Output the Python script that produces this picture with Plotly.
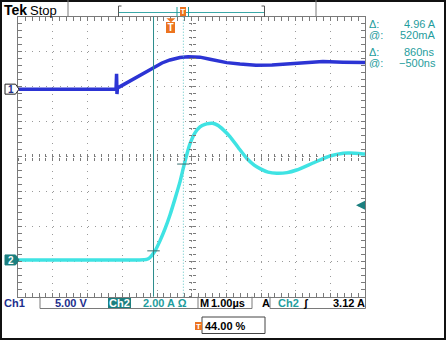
import plotly.graph_objects as go

W, H = 446, 340

# ---------------- scope settings / readouts ----------------
TIME_PER_DIV_US = 1.0
N_HDIV, N_VDIV = 10, 8
TRIGGER_POS_PCT = 44.0
CH1_VOLTS_PER_DIV = 5.0
CH2_AMPS_PER_DIV = 2.0
CH1_REF_DIV = 1.93
CH2_REF_DIV = -2.95
TRIGGER_LEVEL_A = 3.12
CURSOR1_T_US = -0.50
CURSOR_DT_US = 0.86
CURSOR1_A = 0.52
CURSOR_DA = 4.96

# ---------------- waveform data ----------------
ch1_time_us = [-4.4, -1.58, -1.565, -1.553, -1.54, -1.467, -1.084, -0.746, -0.458, -0.256,
               -0.026, 0.262, 0.501, 0.839, 1.127, 1.608, 1.991, 2.452, 2.914, 3.424,
               3.865, 4.383, 4.96, 5.6]
ch1_volts = [0.0, 0.0, 2.2, -0.7, 0.17, 0.36, 1.41, 2.31, 3.21, 3.74,
             4.17, 4.53, 4.64, 4.57, 4.27, 3.79, 3.60, 3.43, 3.46, 3.67,
             3.81, 3.96, 3.86, 3.79]

ch2_time_us = [-4.4, -0.9, -0.7, -0.602, -0.458, -0.314, -0.170, -0.026, 0.118, 0.262,
               0.360, 0.464, 0.550, 0.695, 0.839, 0.983, 1.100, 1.200, 1.357, 1.520,
               1.703, 1.950, 2.184, 2.400, 2.568, 2.800, 3.049, 3.350, 3.625, 4.095,
               4.585, 4.968, 5.150, 5.545, 5.6]
ch2_amps = [0.0, 0.0, 0.03, 0.14, 0.51, 1.09, 1.77, 2.57, 3.49, 4.46,
            5.26, 6.06, 6.63, 7.26, 7.60, 7.75, 7.80, 7.81, 7.69, 7.42,
            7.05, 6.40, 5.81, 5.42, 5.22, 5.02, 4.95, 4.99, 5.14, 5.54,
            5.94, 6.10, 6.11, 6.06, 6.05]

# ---------------- geometry & style ----------------
FONT = "Liberation Sans"
PL, PR, PT, PB = 18.2, 365.2, 16.7, 296.7
T0 = -TRIGGER_POS_PCT / 100 * N_HDIV * TIME_PER_DIV_US
T1 = T0 + N_HDIV * TIME_PER_DIV_US
BLUE = "#2c34d4"
CYAN = "#3fe3e3"
TEAL = "#1f9d9d"
TEAL_DARK = "#1b7f7f"
NAVY = "#1c2e8c"
ORANGE = "#ec7420"
FRAME = "#7a7a7a"
GRID = "#9a9a9a"


def X(px):
    return px / W


def Y(py):
    return 1 - py / H


def t2px(t):
    return PL + (t - T0) / (T1 - T0) * (PR - PL)


def d2py(d):
    return PT + (N_VDIV / 2 - d) / N_VDIV * (PB - PT)


ch1_div = [CH1_REF_DIV + v / CH1_VOLTS_PER_DIV for v in ch1_volts]
ch2_div = [CH2_REF_DIV + a / CH2_AMPS_PER_DIV for a in ch2_amps]

fig = go.Figure()
fig.add_trace(go.Scatter(x=ch1_time_us, y=ch1_div, mode="lines",
                         line=dict(color=BLUE, width=3.5), hoverinfo="skip", showlegend=False))
fig.add_trace(go.Scatter(x=ch2_time_us, y=ch2_div, mode="lines",
                         line=dict(color=CYAN, width=3.5, shape="spline", smoothing=0.5),
                         hoverinfo="skip", showlegend=False))
# empty helper traces so the centre-line tick axes are instantiated
for xa, ya in [("x2", "y"), ("x3", "y"), ("x", "y2"), ("x", "y3")]:
    fig.add_trace(go.Scatter(x=[], y=[], xaxis=xa, yaxis=ya, showlegend=False, hoverinfo="skip"))

xdom = [X(PL), X(PR)]
ydom = [Y(PB), Y(PT)]
common = dict(showticklabels=False, zeroline=False, fixedrange=True)

xaxis = dict(domain=xdom, range=[T0, T1], tick0=T0, dtick=TIME_PER_DIV_US,
             showgrid=True, gridcolor=GRID, gridwidth=1, griddash="1px,6px",
             showline=True, linecolor=FRAME, linewidth=1, mirror="allticks",
             ticks="inside", ticklen=4, tickcolor=FRAME,
             minor=dict(tick0=T0, dtick=TIME_PER_DIV_US / 5, ticks="inside", ticklen=3,
                        tickcolor=FRAME, showgrid=False), **common)
yaxis = dict(domain=ydom, range=[-N_VDIV / 2, N_VDIV / 2], tick0=0, dtick=1,
             showgrid=True, gridcolor=GRID, gridwidth=1, griddash="1px,5.94px",
             showline=True, linecolor=FRAME, linewidth=1, mirror="allticks",
             ticks="inside", ticklen=4, tickcolor=FRAME,
             minor=dict(tick0=0, dtick=0.2, ticks="inside", ticklen=3,
                        tickcolor=FRAME, showgrid=False), **common)


def center_x(ticks):
    return dict(domain=xdom, range=[T0, T1], overlaying="x", anchor="free",
                position=Y(d2py(0)), tick0=T0, dtick=TIME_PER_DIV_US / 5, ticks=ticks,
                ticklen=3, tickcolor=FRAME, showgrid=False, showline=False, **common)


def center_y(ticks):
    return dict(domain=ydom, range=[-N_VDIV / 2, N_VDIV / 2], overlaying="y", anchor="free",
                position=X(t2px(T0 + N_HDIV / 2 * TIME_PER_DIV_US)), tick0=0, dtick=0.2,
                ticks=ticks, ticklen=3, tickcolor=FRAME, showgrid=False, showline=False,
                **common)


shapes = []
ann = []


def pline(x0, y0, x1, y1, color=FRAME, width=1, dash="solid"):
    shapes.append(dict(type="line", xref="paper", yref="paper", x0=X(x0), y0=Y(y0),
                       x1=X(x1), y1=Y(y1), line=dict(color=color, width=width, dash=dash)))


def txt(s, x, y, size=11, color="black", anchor="left", bold=False, **kw):
    d = dict(text=(f"<b>{s}</b>" if bold else s), x=X(x), y=Y(y), xref="paper", yref="paper",
             xanchor=anchor, yanchor="middle", showarrow=False, borderpad=0, borderwidth=0,
             font=dict(size=size, color=color, family=FONT))
    d.update(kw)
    ann.append(d)


# outer frame
shapes.append(dict(type="rect", xref="paper", yref="paper", x0=0, y0=0, x1=1, y1=1,
                   line=dict(color="#111", width=4)))

# ---- top status bar ----
txt("Tek", 4, 10, size=14, bold=True)
txt("Stop", 30, 10, size=13)
pline(68, 0, 68, PT)
pline(316, 0, 316, PT)
# record bar
pline(119, 12.5, 264, 12.5, color="#3aa8a8", width=1)
pline(118.5, 6, 118.5, 17, color="#555")
pline(118.5, 6, 121.5, 6, color="#555")
pline(264.5, 6, 264.5, 17, color="#555")
pline(261.5, 6, 264.5, 6, color="#555")
pline(177, 7, 177, 17, color=TEAL)
pline(188.5, 7, 188.5, 17, color=TEAL)
txt("T", 183, 11.5, size=8, color="white", anchor="center", bold=True, bgcolor=ORANGE,
    width=6, height=9)

# ---- trigger position marker ----
tx = t2px(0)
shapes.append(dict(type="path", xref="paper", yref="paper",
                   path=f"M{X(tx-4.5)},{Y(PT+1.5)} L{X(tx+4.5)},{Y(PT+1.5)} L{X(tx)},{Y(PT+5.5)} Z",
                   fillcolor=ORANGE, line=dict(width=0)))
txt("T", tx, 27.5, size=10, color="white", anchor="center", bold=True, bgcolor=ORANGE,
    width=9, height=11)

# ---- cursors ----
c2 = CURSOR1_T_US + CURSOR_DT_US
shapes.append(dict(type="line", xref="x", yref="paper", x0=CURSOR1_T_US, x1=CURSOR1_T_US,
                   y0=ydom[0], y1=ydom[1], line=dict(color="#2a8c8c", width=1)))
shapes.append(dict(type="line", xref="x", yref="paper", x0=c2, x1=c2,
                   y0=ydom[0], y1=ydom[1], line=dict(color="#5cc4c4", width=1, dash="1px,2px")))
for tc, ac in [(CURSOR1_T_US, CURSOR1_A), (c2, CURSOR1_A + CURSOR_DA)]:
    yc = CH2_REF_DIV + ac / CH2_AMPS_PER_DIV
    shapes.append(dict(type="line", xref="x", yref="y", x0=tc - 0.18, x1=tc + 0.18,
                       y0=yc, y1=yc, line=dict(color="#3a6f6f", width=1)))

# ---- channel ground markers ----
for ref, fill, border, fcol, label in [(CH1_REF_DIV, "white", "#222", NAVY, "1"),
                                       (CH2_REF_DIV, TEAL_DARK, TEAL_DARK, "white", "2")]:
    yp = d2py(ref)
    shapes.append(dict(type="path", xref="paper", yref="paper",
                       path=(f"M{X(5)},{Y(yp-5)} L{X(15.5)},{Y(yp-5)} L{X(19)},{Y(yp)} "
                             f"L{X(15.5)},{Y(yp+5)} L{X(5)},{Y(yp+5)} Z"),
                       fillcolor=fill, line=dict(color=border, width=1)))
    txt(label, 10.5, yp + 0.5, size=10, color=fcol, anchor="center", bold=True)

# ---- trigger level arrow ----
ann.append(dict(x=X(356), y=CH2_REF_DIV + TRIGGER_LEVEL_A / CH2_AMPS_PER_DIV, xref="paper",
                yref="y", text="", showarrow=True, ax=9, ay=0, arrowhead=2, arrowsize=0.9,
                arrowwidth=2, arrowcolor=TEAL_DARK))

# ---- cursor readouts ----
RO = dict(size=11, color=TEAL, height=10)
txt("Δ:", 369, 24.5, **RO)
txt(f"{CURSOR_DA:.2f} A", 436, 24.5, anchor="right", **RO)
txt("@:", 369, 35.5, **RO)
txt(f"{CURSOR1_A*1000:.0f}mA", 436, 35.5, anchor="right", **RO)
txt("Δ:", 369, 51.5, **RO)
txt(f"{CURSOR_DT_US*1000:.0f}ns", 434, 51.5, anchor="right", **RO)
txt("@:", 369, 62.5, **RO)
txt(f"−{abs(CURSOR1_T_US)*1000:.0f}ns", 436, 62.5, anchor="right", **RO)

# ---- bottom settings row ----
by = 302.5
pline(40, PB, 40, 308.5)
pline(40, 308.5, 252, 308.5)
pline(198, PB, 198, 308.5)
pline(252, PB, 252, 308.5)
pline(270, PB, 270, 308.5)
pline(270, 308.5, 365.5, 308.5)
pline(365.5, PB, 365.5, 308.5)
txt("Ch1", 4, by, color=NAVY, bold=True)
txt(f"{CH1_VOLTS_PER_DIV:.2f} V", 55, by, color=NAVY, bold=True)
txt("Ch2", 119.5, by, color="white", bold=True, anchor="center", bgcolor=TEAL_DARK,
    width=23, height=10)
txt(f"{CH2_AMPS_PER_DIV:.2f} A Ω", 143, by, color=TEAL, bold=True)
txt("M", 199.5, by, bold=True)
txt(f"{TIME_PER_DIV_US:.2f}µs", 211, by, bold=True)
txt("A", 261.5, by, bold=True)
txt("Ch2", 278, by, color=TEAL, bold=True)
txt("ʃ", 303, by, bold=True)
txt(f"{TRIGGER_LEVEL_A:.2f} A", 365, by, bold=True, anchor="right")

# trigger position readout
shapes.append(dict(type="rect", xref="paper", yref="paper", x0=X(202), x1=X(265),
                   y0=Y(333.5), y1=Y(317), line=dict(color="#444", width=1)))
txt("T", 198, 325.5, size=8, color="white", anchor="center", bold=True, bgcolor=ORANGE,
    width=7, height=8)
txt(f"{TRIGGER_POS_PCT:.2f} %", 205, 325.5, bold=True)

fig.update_layout(
    width=W, height=H, margin=dict(l=0, r=0, t=0, b=0),
    paper_bgcolor="white", plot_bgcolor="white",
    font=dict(family=FONT),
    xaxis=xaxis, yaxis=yaxis,
    xaxis2=center_x("outside"), xaxis3=center_x("inside"),
    yaxis2=center_y("outside"), yaxis3=center_y("inside"),
    shapes=shapes, annotations=ann, showlegend=False,
)

fig.write_html("out.html", config={"displayModeBar": False, "staticPlot": True},
               post_script="document.body.style.margin='0px';document.body.style.overflow='hidden';")
